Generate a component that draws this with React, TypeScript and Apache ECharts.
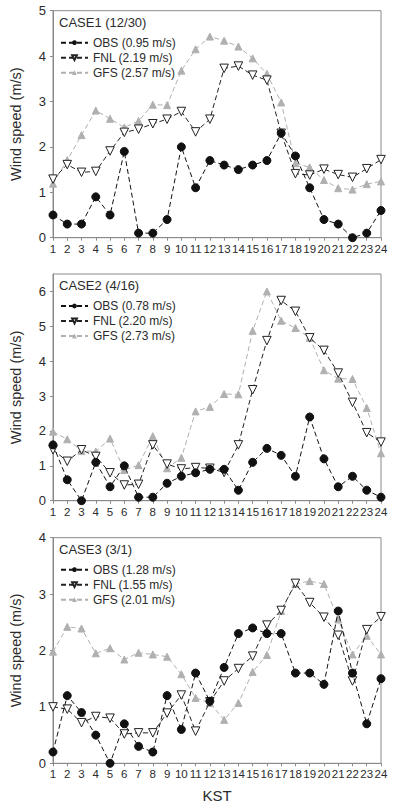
import React, { useEffect, useRef } from "react";
import * as echarts from "echarts";

const hours = ["1","2","3","4","5","6","7","8","9","10","11","12","13","14","15","16","17","18","19","20","21","22","23","24"];

const caseTitles = ["CASE1 (12/30)", "CASE2 (4/16)", "CASE3 (3/1)"];
const obsNames = ["OBS (0.95 m/s)", "OBS (0.78 m/s)", "OBS (1.28 m/s)"];
const fnlNames = ["FNL (2.19 m/s)", "FNL (2.20 m/s)", "FNL (1.55 m/s)"];
const gfsNames = ["GFS (2.57 m/s)", "GFS (2.73 m/s)", "GFS (2.01 m/s)"];
const yMax = [5, 6.5, 4];

const obs1 = [0.5, 0.3, 0.3, 0.9, 0.5, 1.9, 0.1, 0.1, 0.4, 2.0, 1.1, 1.7, 1.6, 1.5, 1.6, 1.7, 2.3, 1.8, 1.1, 0.4, 0.3, 0.0, 0.1, 0.6];
const fnl1 = [1.29, 1.61, 1.44, 1.46, 1.91, 2.32, 2.39, 2.51, 2.61, 2.78, 2.33, 2.61, 3.73, 3.78, 3.58, 3.47, 2.3, 1.41, 1.38, 1.51, 1.39, 1.33, 1.52, 1.72];
const gfs1 = [1.19, 1.71, 2.26, 2.8, 2.62, 2.43, 2.57, 2.93, 2.92, 3.68, 4.15, 4.43, 4.34, 4.21, 3.95, 3.61, 2.98, 1.64, 1.55, 1.27, 1.09, 1.06, 1.18, 1.24];

const obs2 = [1.6, 0.6, 0.0, 1.1, 0.4, 1.0, 0.1, 0.1, 0.5, 0.7, 0.8, 0.9, 0.9, 0.3, 1.1, 1.5, 1.3, 0.7, 2.4, 1.2, 0.4, 0.7, 0.3, 0.1];
const fnl2 = [1.46, 1.13, 1.46, 1.27, 0.8, 0.45, 0.47, 1.6, 1.05, 0.91, 0.95, 0.93, 0.81, 1.6, 3.18, 4.59, 5.74, 5.43, 4.67, 4.31, 3.66, 2.82, 1.95, 1.68];
const gfs2 = [1.98, 1.76, 1.43, 1.41, 1.78, 0.88, 1.02, 1.85, 0.93, 1.23, 2.56, 2.69, 3.06, 3.05, 4.87, 6.0, 5.16, 4.95, 4.67, 3.74, 3.5, 3.49, 2.66, 1.36];

const obs3 = [0.2, 1.2, 0.9, 0.5, 0.0, 0.7, 0.3, 0.2, 1.2, 0.6, 1.6, 1.1, 1.7, 2.3, 2.4, 2.3, 2.3, 1.6, 1.6, 1.4, 2.7, 1.6, 0.7, 1.5];
const fnl3 = [1.0, 0.96, 0.72, 0.83, 0.8, 0.52, 0.54, 0.54, 0.89, 1.21, 0.57, 1.09, 1.46, 1.68, 1.9, 2.45, 2.71, 3.19, 2.85, 2.59, 2.27, 1.46, 2.37, 2.6];
const gfs3 = [1.98, 2.42, 2.39, 1.95, 2.04, 1.84, 1.96, 1.93, 1.89, 1.58, 1.16, 1.07, 0.77, 1.07, 1.62, 1.92, 2.7, 3.18, 3.23, 3.18, 2.55, 1.93, 2.26, 1.93];

const obsData = [obs1, obs2, obs3];
const fnlData = [fnl1, fnl2, fnl3];
const gfsData = [gfs1, gfs2, gfs3];

const FONT = "'Liberation Sans', Arial, Helvetica, sans-serif";
const TEXT = "#2b2b2b";
const gridTops = [10.7, 274, 537.7];
const gridHeights = [227, 226.7, 225.6];

export default function App() {
  const ref = useRef<HTMLDivElement>(null);
  useEffect(() => {
    document.body.style.margin = "0";
    if (!ref.current) return;
    const chart = echarts.init(ref.current, null, { renderer: "svg" });
    const grids: any[] = [];
    const xAxes: any[] = [];
    const yAxes: any[] = [];
    const series: any[] = [];
    const titles: any[] = [];
    const legends: any[] = [];
    for (let i = 0; i < 3; i++) {
      grids.push({
        left: 48, right: 12, top: gridTops[i], height: gridHeights[i],
        show: true, borderColor: "#8a8a8a", borderWidth: 1, backgroundColor: "transparent",
      });
      xAxes.push({
        type: "category", gridIndex: i, data: hours, boundaryGap: false,
        axisLine: { lineStyle: { color: "#8a8a8a", width: 1 } },
        axisTick: { show: true, inside: false, length: 3, alignWithLabel: true, lineStyle: { color: "#8a8a8a" } },
        axisLabel: { interval: 0, color: TEXT, fontFamily: FONT, fontSize: 11.5, margin: 5 },
        name: i === 2 ? "KST" : "",
        nameLocation: "middle", nameGap: 25,
        nameTextStyle: { color: TEXT, fontFamily: FONT, fontSize: 15 },
        splitLine: { show: false },
      });
      yAxes.push({
        type: "value", gridIndex: i, min: 0, max: yMax[i], interval: 1,
        axisLine: { show: true, lineStyle: { color: "#8a8a8a", width: 1 } },
        axisTick: { show: true, inside: false, length: 3, lineStyle: { color: "#8a8a8a" } },
        axisLabel: { color: TEXT, fontFamily: FONT, fontSize: 13, margin: 7, showMaxLabel: i !== 1 },
        splitLine: { show: false },
        name: "Wind speed (m/s)", nameLocation: "middle", nameGap: 30,
        nameTextStyle: { color: TEXT, fontFamily: FONT, fontSize: 14.5 },
      });
      titles.push({
        text: caseTitles[i], left: 59, top: gridTops[i] + 5,
        textStyle: { color: TEXT, fontFamily: FONT, fontSize: 13, fontWeight: "normal" },
        padding: 0,
      });
      legends.push({
        data: [obsNames[i], fnlNames[i], gfsNames[i]],
        orient: "vertical", left: 60, top: gridTops[i] + 25,
        itemWidth: 27, itemHeight: 6, itemGap: 1, padding: 0,
        textStyle: { color: TEXT, fontFamily: FONT, fontSize: 12, lineHeight: 14 },
      });
      const dash = [5, 3];
      series.push({
        name: obsNames[i], type: "line", xAxisIndex: i, yAxisIndex: i, data: obsData[i],
        symbol: "circle", symbolSize: 8,
        itemStyle: { color: "#111", borderColor: "#111" },
        lineStyle: { color: "#111", width: 1, type: dash },
        z: 4,
      });
      series.push({
        name: fnlNames[i], type: "line", xAxisIndex: i, yAxisIndex: i, data: fnlData[i],
        symbol: "triangle", symbolRotate: 180, symbolSize: 8.5,
        itemStyle: { color: "#fff", borderColor: "#222", borderWidth: 1 },
        lineStyle: { color: "#222", width: 1, type: dash },
        z: 3,
      });
      series.push({
        name: gfsNames[i], type: "line", xAxisIndex: i, yAxisIndex: i, data: gfsData[i],
        symbol: "triangle", symbolSize: 7,
        itemStyle: { color: "#b0b0b0", borderColor: "#b0b0b0" },
        lineStyle: { color: "#b0b0b0", width: 1, type: dash },
        z: 2,
      });
    }
    chart.setOption({
      animation: false,
      backgroundColor: "#fff",
      title: titles,
      legend: legends,
      grid: grids,
      xAxis: xAxes,
      yAxis: yAxes,
      series,
    });
    return () => chart.dispose();
  }, []);
  return <div ref={ref} style={{ width: 393, height: 806 }} />;
}
